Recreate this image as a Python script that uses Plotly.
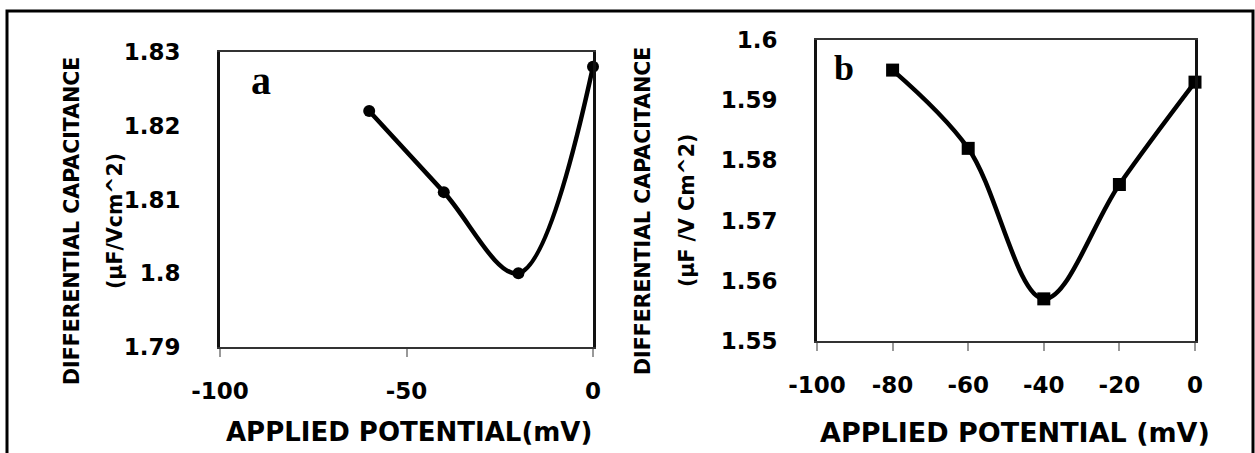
import plotly.graph_objects as go

W, H = 1255, 453

# ---- data ----
a_potential = [-60, -40, -20, 0]
a_capacitance = [1.822, 1.811, 1.800, 1.828]
b_potential = [-80, -60, -40, -20, 0]
b_capacitance = [1.595, 1.582, 1.557, 1.576, 1.593]

a_yticks = [1.79, 1.80, 1.81, 1.82, 1.83]
a_yticktext = ["1.79", "1.8", "1.81", "1.82", "1.83"]
a_xticks = [-100, -50, 0]
a_xticktext = ["-100", "-50", "0"]
b_yticks = [1.55, 1.56, 1.57, 1.58, 1.59, 1.60]
b_yticktext = ["1.55", "1.56", "1.57", "1.58", "1.59", "1.6"]
b_xticks = [-100, -80, -60, -40, -20, 0]
b_xticktext = ["-100", "-80", "-60", "-40", "-20", "0"]

FONT = "DejaVu Sans"
def px(x):
    return x / W
def py(y):
    return 1 - y / H

fig = go.Figure()
fig.add_trace(go.Scatter(x=a_potential, y=a_capacitance, mode="lines+markers",
                         line=dict(color="black", width=4.5, shape="spline", smoothing=1.0),
                         marker=dict(symbol="circle", size=12, color="black"),
                         xaxis="x", yaxis="y", cliponaxis=False, showlegend=False))
fig.add_trace(go.Scatter(x=b_potential, y=b_capacitance, mode="lines+markers",
                         line=dict(color="black", width=4.5, shape="spline", smoothing=1.0),
                         marker=dict(symbol="square", size=13, color="black"),
                         xaxis="x2", yaxis="y2", cliponaxis=False, showlegend=False))

tickfont = dict(family=FONT, size=23, color="black", weight="bold")
common_x = dict(showgrid=False, zeroline=False, showline=True, linecolor="#333", linewidth=2,
                mirror=True, ticks="outside", ticklen=8, tickcolor="#999", tickwidth=2,
                tickfont=tickfont, ticklabelstandoff=14, automargin=False)
common_y = dict(showgrid=False, zeroline=False, showline=True, linecolor="#111", linewidth=3,
                mirror=True, ticks="", tickfont=tickfont, ticklabelstandoff=32, automargin=False)

fig.update_layout(
    template="none",
    width=W, height=H, margin=dict(l=0, r=0, t=0, b=0, pad=0), autosize=False,
    paper_bgcolor="white", plot_bgcolor="white",
    xaxis=dict(domain=[px(220), px(593)], range=[-100, 0], tickvals=a_xticks,
               ticktext=a_xticktext, anchor="y", **common_x),
    yaxis=dict(domain=[py(347), py(52)], range=[1.79, 1.83], tickvals=a_yticks,
               ticktext=a_yticktext, anchor="x", **common_y),
    xaxis2=dict(domain=[px(817), px(1195)], range=[-100, 0], tickvals=b_xticks,
                ticktext=b_xticktext, anchor="y2", **common_x),
    yaxis2=dict(domain=[py(341), py(40)], range=[1.55, 1.60], tickvals=b_yticks,
                ticktext=b_yticktext, anchor="x2", **common_y),
)

ytitlefont = dict(family=FONT, size=20.5, color="black", weight="bold")
ann = [
    dict(text="DIFFERENTIAL CAPACITANCE", x=px(72), y=py(221), textangle=-90, font=ytitlefont),
    dict(text="(µF/Vcm^2)", x=px(115), y=py(221), textangle=-90, font=ytitlefont),
    dict(text="DIFFERENTIAL CAPACITANCE", x=px(643), y=py(211), textangle=-90, font=ytitlefont),
    dict(text="(µF /V Cm^2)", x=px(687), y=py(211), textangle=-90, font=ytitlefont),
    dict(text="APPLIED POTENTIAL(mV)", x=px(409), y=py(432), textangle=0,
         font=dict(family=FONT, size=26, color="black", weight="bold")),
    dict(text="APPLIED POTENTIAL (mV)", x=px(1015), y=py(432), textangle=0,
         font=dict(family=FONT, size=27, color="black", weight="bold")),
]
for a in ann:
    fig.add_annotation(xref="paper", yref="paper", xanchor="center", yanchor="middle",
                       showarrow=False, **a)

fig.add_annotation(text="a", xref="paper", yref="paper", x=px(261), y=py(80),
                   xanchor="center", yanchor="middle", showarrow=False,
                   font=dict(family="Liberation Serif", size=40, color="black", weight="bold"))
fig.add_annotation(text="b", xref="paper", yref="paper", x=px(844), y=py(68),
                   xanchor="center", yanchor="middle", showarrow=False,
                   font=dict(family="Liberation Serif", size=36, color="black", weight="bold"))

# outer frame
fig.add_shape(type="rect", xref="paper", yref="paper", x0=px(7), y0=py(470), x1=px(1253), y1=py(11),
              line=dict(color="black", width=3))

fig.write_html("out.html")
